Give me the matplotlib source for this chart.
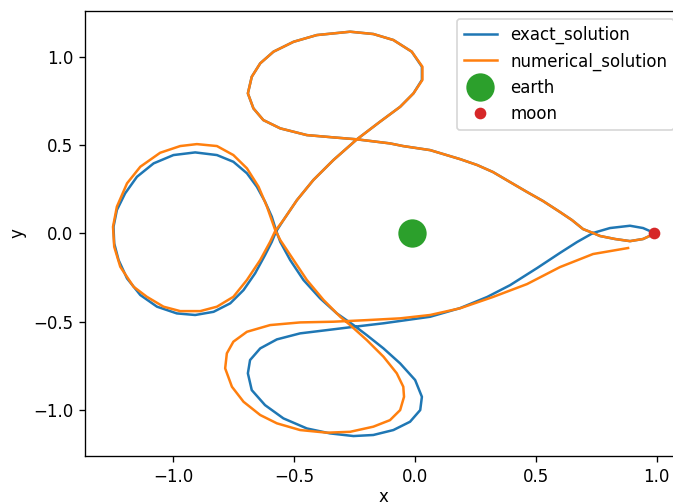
import numpy as np
import matplotlib
matplotlib.use('Agg')
import matplotlib.pyplot as plt

# exact (periodic) orbit
exact_x = np.array([0.994, 0.944, 0.890, 0.828, 0.766, 0.737, 0.696, 0.650, 0.600, 0.530,
                    0.464, 0.394, 0.323, 0.257, 0.187, 0.063, -0.049, -0.103, -0.240, -0.337,
                    -0.447, -0.557, -0.627, -0.668, -0.691, -0.675, -0.640, -0.585, -0.502, -0.406,
                    -0.268, -0.172, -0.089, -0.013, 0.029, 0.029, -0.006, -0.061, -0.144, -0.240,
                    -0.337, -0.420, -0.488, -0.544, -0.575, -0.592, -0.620, -0.661, -0.709, -0.764,
                    -0.833, -0.909, -0.985, -1.067, -1.136, -1.191, -1.226, -1.244, -1.247, -1.233,
                    -1.199, -1.150, -1.081, -0.999, -0.909, -0.819, -0.751, -0.695, -0.654, -0.620,
                    -0.592, -0.575, -0.557, -0.516, -0.461, -0.392, -0.323, -0.254, -0.199, -0.130,
                    -0.061, 0.001, 0.029, 0.022, -0.020, -0.089, -0.172, -0.254, -0.351, -0.447,
                    -0.544, -0.620, -0.675, -0.691, -0.682, -0.640, -0.571, -0.475, -0.337, -0.254,
                    -0.130, 0.063, 0.187, 0.299, 0.394, 0.506, 0.600, 0.671, 0.737, 0.807,
                    0.890, 0.944, 0.994])
exact_y = np.array([0.0, -0.032, -0.044, -0.032, -0.015, 0.002, 0.024, 0.075, 0.121, 0.183,
                    0.234, 0.290, 0.347, 0.387, 0.420, 0.471, 0.494, 0.509, 0.532, 0.543,
                    0.556, 0.594, 0.641, 0.707, 0.792, 0.886, 0.962, 1.028, 1.084, 1.122,
                    1.141, 1.128, 1.094, 1.028, 0.943, 0.868, 0.792, 0.716, 0.632, 0.532,
                    0.415, 0.302, 0.188, 0.075, 0.009, -0.048, -0.123, -0.226, -0.321, -0.396,
                    -0.444, -0.462, -0.453, -0.415, -0.349, -0.255, -0.151, -0.057, 0.037, 0.132,
                    0.226, 0.320, 0.396, 0.443, 0.458, 0.443, 0.405, 0.340, 0.264, 0.179,
                    0.094, 0.019, -0.048, -0.151, -0.264, -0.368, -0.453, -0.519, -0.576, -0.651,
                    -0.736, -0.830, -0.925, -1.000, -1.066, -1.113, -1.141, -1.147, -1.132, -1.104,
                    -1.047, -0.972, -0.887, -0.792, -0.717, -0.651, -0.600, -0.566, -0.543, -0.529,
                    -0.509, -0.472, -0.423, -0.360, -0.293, -0.196, -0.111, -0.049, 0.002, 0.030,
                    0.043, 0.030, 0.0])

# coarse numerical solution
num_x = np.array([0.994, 0.944, 0.890, 0.828, 0.766, 0.737, 0.696, 0.650, 0.600, 0.530,
                  0.464, 0.394, 0.323, 0.257, 0.187, 0.063, -0.049, -0.103, -0.240, -0.337,
                  -0.447, -0.557, -0.627, -0.668, -0.691, -0.675, -0.640, -0.585, -0.502, -0.406,
                  -0.268, -0.172, -0.089, -0.013, 0.031, 0.031, -0.006, -0.061, -0.144, -0.240,
                  -0.337, -0.420, -0.488, -0.544, -0.578, -0.599, -0.640, -0.695, -0.751, -0.819,
                  -0.888, -0.971, -1.040, -1.109, -1.164, -1.219, -1.244, -1.249, -1.233, -1.191,
                  -1.136, -1.054, -0.971, -0.902, -0.819, -0.751, -0.695, -0.647, -0.612, -0.578,
                  -0.557, -0.502, -0.447, -0.378, -0.309, -0.268, -0.199, -0.130, -0.075, -0.048,
                  -0.045, -0.061, -0.103, -0.172, -0.268, -0.364, -0.475, -0.571, -0.640, -0.709,
                  -0.757, -0.785, -0.778, -0.751, -0.695, -0.599, -0.475, -0.337, -0.199, -0.061,
                  0.063, 0.187, 0.323, 0.464, 0.600, 0.737, 0.882])
num_y = np.array([0.0, -0.032, -0.044, -0.032, -0.015, 0.002, 0.024, 0.075, 0.121, 0.183,
                  0.234, 0.290, 0.347, 0.387, 0.420, 0.471, 0.494, 0.509, 0.532, 0.543,
                  0.556, 0.594, 0.641, 0.707, 0.792, 0.886, 0.962, 1.028, 1.084, 1.122,
                  1.141, 1.128, 1.094, 1.028, 0.943, 0.868, 0.792, 0.716, 0.632, 0.532,
                  0.415, 0.302, 0.188, 0.075, 0.013, -0.048, -0.151, -0.264, -0.359, -0.415,
                  -0.440, -0.440, -0.415, -0.359, -0.302, -0.189, -0.076, 0.037, 0.151, 0.283,
                  0.377, 0.456, 0.494, 0.505, 0.494, 0.443, 0.368, 0.264, 0.151, 0.019,
                  -0.038, -0.151, -0.264, -0.377, -0.472, -0.519, -0.604, -0.698, -0.792, -0.868,
                  -0.925, -1.000, -1.057, -1.094, -1.123, -1.128, -1.113, -1.075, -1.028, -0.953,
                  -0.868, -0.764, -0.679, -0.613, -0.557, -0.519, -0.504, -0.500, -0.491, -0.481,
                  -0.462, -0.424, -0.360, -0.287, -0.191, -0.117, -0.083])

earth_x, earth_y = -0.012, 0.0
moon_x, moon_y = 0.988, 0.0

fig = plt.figure(figsize=(673/120, 504/120), dpi=120)
ax = fig.add_axes([0.1259, 0.0952, 0.8878, 0.8836])
ax.plot(exact_x, exact_y, label='exact_solution')
ax.plot(num_x, num_y, label='numerical_solution')
ax.plot(earth_x, earth_y, 'o', color='C2', markersize=16, label='earth')
ax.plot(moon_x, moon_y, 'o', color='C3', markersize=6, label='moon')
ax.set_xlim(-1.366, 1.106)
ax.set_ylim(-1.26, 1.26)
ax.set_xlabel('x', labelpad=1.5)
ax.set_ylabel('y')
ax.legend(loc='upper right')
fig.savefig('out.png', dpi=120)
